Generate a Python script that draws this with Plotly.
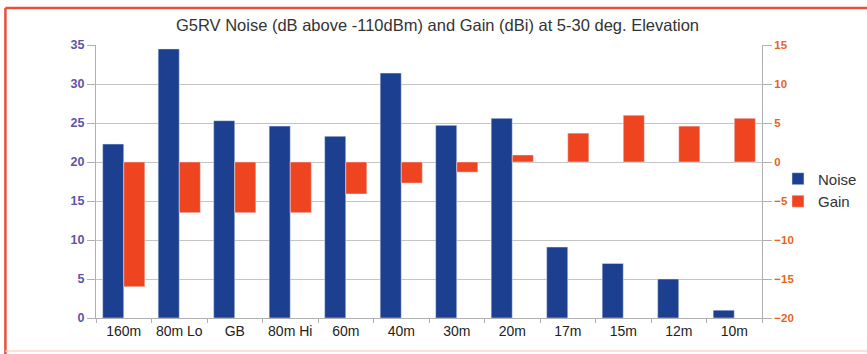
import plotly.graph_objects as go

bands = ["160m", "80m Lo", "GB", "80m Hi", "60m", "40m", "30m", "20m", "17m", "15m", "12m", "10m"]
noise_db = [22.3, 34.5, 25.3, 24.6, 23.3, 31.4, 24.7, 25.6, 9.1, 7.0, 5.0, 1.0]
gain_dbi = [-16.0, -6.5, -6.5, -6.5, -4.1, -2.7, -1.3, 0.9, 3.7, 6.0, 4.6, 5.6]

left_ticks = [0, 5, 10, 15, 20, 25, 30, 35]
right_ticks = [-20, -15, -10, -5, 0, 5, 10, 15]

BLUE = "#1c3f8f"
ORANGE = "#ee4420"
FRAME = "#e8503a"
FONT = "Liberation Sans, Arial, sans-serif"

fig = go.Figure()
fig.add_trace(go.Bar(name="Noise", x=bands, y=noise_db, marker_color=BLUE,
                     offsetgroup="n", yaxis="y"))
fig.add_trace(go.Bar(name="Gain", x=bands, y=gain_dbi, marker_color=ORANGE,
                     offsetgroup="g", yaxis="y2"))

# page frame: top and left rules plus a faint bottom rule
frame = [
    dict(x0=-0.136, x1=1.16, y0=1.1355, y1=1.1355, color=FRAME, width=2.5),
    dict(x0=-0.136, x1=-0.136, y0=1.1355, y1=-0.14, color=FRAME, width=2.5),
    dict(x0=-0.136, x1=1.16, y0=-0.121, y1=-0.121, color="#f6d8cc", width=1.5),
]
shapes = [dict(type="line", xref="paper", yref="paper", x0=f["x0"], x1=f["x1"],
               y0=f["y0"], y1=f["y1"], line=dict(color=f["color"], width=f["width"]),
               layer="above") for f in frame]

fig.update_layout(
    width=867, height=354,
    margin=dict(l=96, r=105, t=45, b=36, autoexpand=False),
    paper_bgcolor="white", plot_bgcolor="white",
    font=dict(family=FONT, size=12, color="#222"),
    barmode="group", bargap=0.24, bargroupgap=0.0,
    title=dict(text="G5RV Noise (dB above -110dBm) and Gain (dBi) at 5-30 deg. Elevation",
               xref="container", x=0.5046, xanchor="center",
               yref="container", y=0.929, yanchor="middle",
               font=dict(size=16.5, color="#333")),
    xaxis=dict(showgrid=False, showline=True, linecolor="#b0b0b0",
               ticks="outside", ticklen=4, tickcolor="#b0b0b0", tickangle=0,
               tickson="boundaries", tickfont=dict(size=14, color="#222")),
    yaxis=dict(range=[0, 35], tickvals=left_ticks, showgrid=True, gridcolor="#c4c4c4",
               showline=True, linecolor="#b0b0b0", ticks="outside", ticklen=8,
               tickcolor="#b0b0b0", zeroline=False,
               tickfont=dict(size=12.5, color="#5b55a8", weight="bold")),
    yaxis2=dict(range=[-20, 15], tickvals=right_ticks, overlaying="y", side="right",
                showgrid=False, showline=True, linecolor="#b0b0b0", ticks="outside",
                ticklen=9, tickcolor="#b0b0b0", zeroline=False,
                tickfont=dict(size=11.5, color="#e8641c", weight="bold")),
    legend=dict(x=1.024, y=0.469, xanchor="left", yanchor="middle",
                bgcolor="rgba(0,0,0,0)", font=dict(size=15, color="#333"),
                itemwidth=30, tracegroupgap=0),
    shapes=shapes,
)

fig.write_html("out.html")
